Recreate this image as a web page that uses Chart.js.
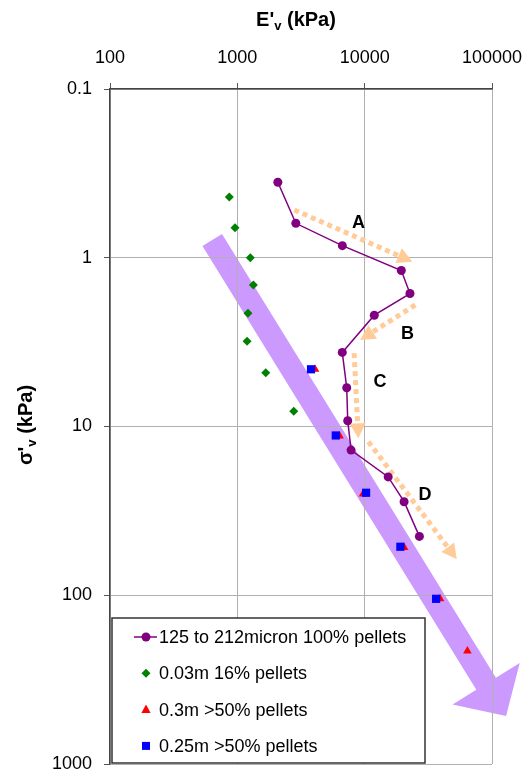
<!DOCTYPE html>
<html>
<head>
<meta charset="utf-8">
<script src="https://cdn.jsdelivr.net/npm/chart.js"></script>
<style>
  body { margin: 0; background: #fff; }
  #wrap { width: 530px; height: 776px; }
</style>
</head>
<body>
<div id="wrap"><canvas id="myChart" width="530" height="776"></canvas></div>
<script>
// tick values
const modulusTicks = [100, 1000, 10000, 100000];
const stressTicks = [0.1, 1, 10, 100, 1000];

// 125 to 212 micron, 100% pellets (E'v, sigma'v)
const pelletModulus = [2080, 2880, 6680, 19400, 22700, 11900, 6670, 7230, 7360, 7820, 15300, 20400, 26900];
const pelletStress = [0.357, 0.625, 0.848, 1.19, 1.63, 2.19, 3.64, 5.89, 9.24, 13.8, 19.9, 27.9, 44.8];

// 0.03m 16% pellets
const m003Modulus = [865, 959, 1265, 1336, 1213, 1192, 1671, 2773];
const m003Stress = [0.437, 0.664, 1.0, 1.45, 2.13, 3.13, 4.80, 8.13];

// 0.3m >50% pellets
const m03Modulus = [4075, 6350, 9710, 20400, 39100, 64100];
const m03Stress = [4.58, 11.4, 25.1, 52.1, 105, 214];

// 0.25m >50% pellets
const m025Modulus = [3790, 5930, 10260, 19070, 36400];
const m025Stress = [4.58, 11.3, 24.7, 51.6, 105];

// annotations (data coordinates)
const trendStart = [635, 0.785];
const trendEnd = [129000, 520];
const zoneNames = ['A', 'B', 'C', 'D'];
const zoneFrom = [[2805, 0.521], [25000, 1.905], [8260, 3.68], [10690, 12.3]];
const zoneTo = [[23700, 1.055], [9200, 3.07], [8925, 11.75], [52900, 61.2]];
const zoneLabelAt = [[8925, 0.625], [21650, 2.83], [13200, 5.47], [29800, 25.5]];

function toPoints(xs, ys) {
    return xs.map((x, i) => ({ x: x, y: ys[i] }));
}

function px(chart, p) {
    return [chart.scales.x.getPixelForValue(p[0]), chart.scales.y.getPixelForValue(p[1])];
}

// big purple trend arrow, drawn before the grid
const trendArrow = {
    id: 'trendArrow',
    beforeDraw(chart) {
        const ctx = chart.ctx;
        const a = px(chart, trendStart);
        const b = px(chart, trendEnd);
        const dx = b[0] - a[0], dy = b[1] - a[1];
        const len = Math.sqrt(dx * dx + dy * dy);
        const ux = dx / len, uy = dy / len;
        const nx = -uy, ny = ux;
        const shaft = 11.5, head = 39.5, headLen = 38;
        const hx = b[0] - ux * headLen, hy = b[1] - uy * headLen;
        ctx.save();
        ctx.fillStyle = 'rgb(204,153,255)';
        ctx.beginPath();
        ctx.moveTo(a[0] + nx * shaft, a[1] + ny * shaft);
        ctx.lineTo(hx + nx * shaft, hy + ny * shaft);
        ctx.lineTo(hx + nx * head, hy + ny * head);
        ctx.lineTo(b[0], b[1]);
        ctx.lineTo(hx - nx * head, hy - ny * head);
        ctx.lineTo(hx - nx * shaft, hy - ny * shaft);
        ctx.lineTo(a[0] - nx * shaft, a[1] - ny * shaft);
        ctx.closePath();
        ctx.fill();
        ctx.restore();
    }
};

// dotted orange arrows with letters
const zoneArrows = {
    id: 'zoneArrows',
    beforeDatasetsDraw(chart) {
        const ctx = chart.ctx;
        ctx.save();
        zoneFrom.forEach((f, i) => {
            const a = px(chart, f);
            const b = px(chart, zoneTo[i]);
            const dx = b[0] - a[0], dy = b[1] - a[1];
            const len = Math.sqrt(dx * dx + dy * dy);
            const ux = dx / len, uy = dy / len;
            const hl = 15, hw = 8;
            const hx = b[0] - ux * hl, hy = b[1] - uy * hl;
            ctx.strokeStyle = '#FFCC99';
            ctx.lineWidth = 5;
            ctx.setLineDash([5, 4]);
            ctx.beginPath();
            ctx.moveTo(a[0], a[1]);
            ctx.lineTo(hx, hy);
            ctx.stroke();
            ctx.setLineDash([]);
            ctx.fillStyle = '#FFCC99';
            ctx.beginPath();
            ctx.moveTo(b[0], b[1]);
            ctx.lineTo(hx - uy * hw, hy + ux * hw);
            ctx.lineTo(hx + uy * hw, hy - ux * hw);
            ctx.closePath();
            ctx.fill();
        });
        ctx.fillStyle = '#000';
        ctx.font = 'bold 18px "Liberation Sans", Arial, sans-serif';
        ctx.textAlign = 'center';
        ctx.textBaseline = 'middle';
        zoneLabelAt.forEach((p, i) => {
            const q = px(chart, p);
            ctx.fillText(zoneNames[i], q[0], q[1]);
        });
        ctx.restore();
    }
};

// axis titles with subscripts + boxed legend inside the plot
function drawMarker(ctx, style, x, y, color) {
    ctx.fillStyle = color;
    ctx.beginPath();
    if (style === 'circle') {
        ctx.arc(x, y, 4.5, 0, Math.PI * 2);
    } else if (style === 'rectRot') {
        ctx.moveTo(x, y - 4.5); ctx.lineTo(x + 4.5, y); ctx.lineTo(x, y + 4.5); ctx.lineTo(x - 4.5, y);
    } else if (style === 'triangle') {
        ctx.moveTo(x, y - 5); ctx.lineTo(x + 4.6, y + 3.5); ctx.lineTo(x - 4.6, y + 3.5);
    } else {
        ctx.rect(x - 4, y - 4, 8, 8);
    }
    ctx.closePath();
    ctx.fill();
}

function drawSubTitle(ctx, main, sub, rest, cx, cy) {
    const big = 'bold 20px "Liberation Sans", Arial, sans-serif';
    const small = 'bold 13px "Liberation Sans", Arial, sans-serif';
    ctx.font = big;
    const w1 = ctx.measureText(main).width;
    const w3 = ctx.measureText(rest).width;
    ctx.font = small;
    const w2 = ctx.measureText(sub).width;
    let x = cx - (w1 + w2 + w3) / 2;
    ctx.textAlign = 'left';
    ctx.textBaseline = 'middle';
    ctx.font = big;
    ctx.fillText(main, x, cy);
    x += w1;
    ctx.font = small;
    ctx.fillText(sub, x, cy + 6);
    x += w2;
    ctx.font = big;
    ctx.fillText(rest, x, cy);
}

const extras = {
    id: 'extras',
    afterDraw(chart) {
        const ctx = chart.ctx;
        const area = chart.chartArea;
        ctx.save();
        ctx.fillStyle = '#000';
        drawSubTitle(ctx, "E'", 'v', ' (kPa)', 296, 20);
        ctx.save();
        ctx.translate(26, 425);
        ctx.rotate(-Math.PI / 2);
        drawSubTitle(ctx, "\u03c3'", 'v', ' (kPa)', 0, 0);
        ctx.restore();

        // legend box
        const bx = area.left + 2, by = 618, bw = 313, bh = area.bottom - 1 - 618;
        ctx.fillStyle = '#fff';
        ctx.fillRect(bx, by, bw, bh);
        ctx.strokeStyle = '#333';
        ctx.lineWidth = 1.5;
        ctx.strokeRect(bx, by, bw, bh);
        const order = [0, 1, 2, 3];
        order.forEach((i, k) => {
            const ds = chart.data.datasets[i];
            const y = 637 + k * 36.3;
            if (ds.showLine) {
                ctx.strokeStyle = ds.borderColor;
                ctx.lineWidth = 1.5;
                ctx.beginPath();
                ctx.moveTo(134, y);
                ctx.lineTo(157, y);
                ctx.stroke();
            }
            drawMarker(ctx, ds.pointStyle, 146, y, ds.pointBackgroundColor);
            ctx.fillStyle = '#000';
            ctx.font = '18px "Liberation Sans", Arial, sans-serif';
            ctx.textAlign = 'left';
            ctx.textBaseline = 'middle';
            ctx.fillText(ds.label, 159, y + 1);
        });
        ctx.restore();
    }
};

const gridColor = '#b0b0b0';
const tickFont = { family: '"Liberation Sans", Arial, sans-serif', size: 18 };

new Chart(document.getElementById('myChart').getContext('2d'), {
    type: 'scatter',
    data: {
        datasets: [
            {
                label: '125 to 212micron 100% pellets',
                data: toPoints(pelletModulus, pelletStress),
                showLine: true,
                borderColor: '#800080',
                borderWidth: 1.5,
                pointStyle: 'circle',
                pointRadius: 4.5,
                pointBackgroundColor: '#800080',
                pointBorderWidth: 0,
                order: 0
            },
            {
                label: '0.03m 16% pellets',
                data: toPoints(m003Modulus, m003Stress),
                pointStyle: 'rectRot',
                pointRadius: 4.5,
                pointBackgroundColor: '#008000',
                borderColor: '#008000',
                pointBorderWidth: 0,
                order: 1
            },
            {
                label: '0.3m >50% pellets',
                data: toPoints(m03Modulus, m03Stress),
                pointStyle: 'triangle',
                pointRadius: 5,
                pointBackgroundColor: '#ff0000',
                borderColor: '#ff0000',
                pointBorderWidth: 0,
                order: 3
            },
            {
                label: '0.25m >50% pellets',
                data: toPoints(m025Modulus, m025Stress),
                pointStyle: 'rect',
                pointRadius: 5.8,
                pointBackgroundColor: '#0000ff',
                borderColor: '#0000ff',
                pointBorderWidth: 0,
                order: 2
            }
        ]
    },
    options: {
        responsive: false,
        animation: false,
        layout: { padding: { left: 0, top: 0, right: 38, bottom: 12 } },
        plugins: {
            legend: { display: false },
            tooltip: { enabled: false }
        },
        scales: {
            x: {
                type: 'logarithmic',
                position: 'top',
                min: 100,
                max: 100000,
                afterBuildTicks: (scale) => { scale.ticks = modulusTicks.map(v => ({ value: v })); },
                afterFit: (scale) => {
                    scale.height = 89;
                    scale.paddingLeft = 0;
                    scale.paddingRight = 0;
                },
                ticks: {
                    color: '#000',
                    font: tickFont,
                    padding: 14,
                    maxRotation: 0,
                    callback: (v) => String(v)
                },
                grid: { color: gridColor, tickLength: 6, tickColor: '#555' },
                border: { color: '#444', width: 1.5 }
            },
            y: {
                type: 'logarithmic',
                reverse: true,
                min: 0.1,
                max: 1000,
                afterBuildTicks: (scale) => { scale.ticks = stressTicks.map(v => ({ value: v })); },
                afterFit: (scale) => {
                    scale.width = 110;
                    scale.paddingTop = 0;
                    scale.paddingBottom = 0;
                },
                ticks: {
                    color: '#000',
                    font: tickFont,
                    padding: 12,
                    callback: (v) => String(v)
                },
                grid: { color: gridColor, tickLength: 6, tickColor: '#555' },
                border: { color: '#444', width: 1.5 }
            }
        }
    },
    plugins: [trendArrow, zoneArrows, extras]
});
</script>
</body>
</html>
